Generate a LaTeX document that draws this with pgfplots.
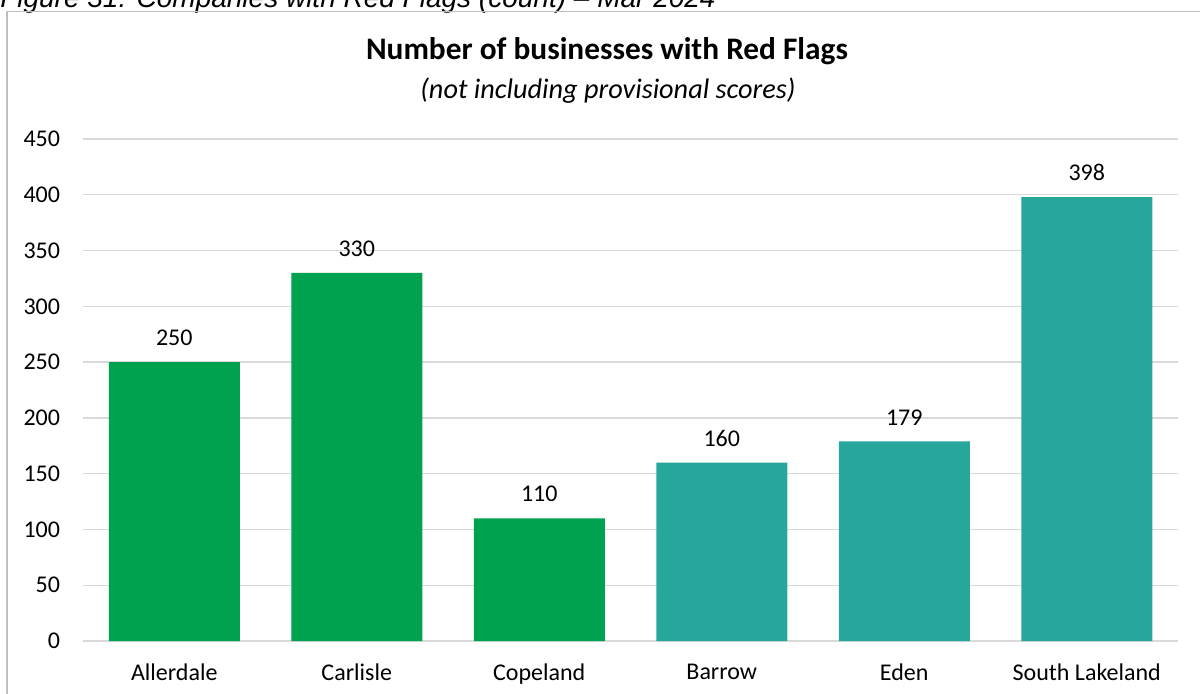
\documentclass[border=0pt]{standalone}
\usepackage{pgfplots}
\pgfplotsset{compat=1.18}
\usepackage{fontspec}
\setmainfont{Carlito}
\newfontfamily\arialfont{Liberation Sans}
\definecolor{bargreen}{HTML}{00A14F}
\definecolor{barteal}{HTML}{27A79B}
\definecolor{gridgrey}{HTML}{D9D9D9}
\definecolor{framegrey}{HTML}{BFBFBF}
\begin{document}
\begin{tikzpicture}
\useasboundingbox (0,0) rectangle (900pt,519.75pt);
\clip (0,0) rectangle (900pt,519.75pt);
\node[anchor=base west, inner sep=0pt, font=\arialfont\itshape\fontsize{21}{25}\selectfont] at (0pt,513.75pt) {Figure 31: Companies with Red Flags (count) – Mar 2024};
\draw[framegrey, line width=1.2pt] (5.25pt,-10pt) -- (5.25pt,511.125pt) -- (910pt,511.125pt);
\node[anchor=base, inner sep=0pt, font=\bfseries\fontsize{23.5}{28}\selectfont] at (455.25pt,475pt) {Number of businesses with Red Flags};
\node[anchor=base, inner sep=0pt, font=\itshape\fontsize{21.2}{25}\selectfont] at (456pt,446pt) {(not including provisional scores)};
\begin{axis}[
  at={(62.25pt,39pt)}, anchor=south west, scale only axis,
  width=821.25pt, height=376.5pt,
  xmin=-0.5, xmax=5.5, ymin=0, ymax=450,
  ytick={0,50,...,450}, xtick={0,...,5},
  xticklabels={Allerdale,Carlisle,Copeland,Barrow,Eden,South Lakeland},
  ymajorgrids, grid style={gridgrey, line width=1pt},
  axis line style={draw=none}, major tick length=0pt,
  tick label style={font=\fontsize{18}{22}\selectfont},
  yticklabel style={anchor=east, inner sep=0pt, xshift=-17pt},
  xticklabel style={anchor=north, inner sep=0pt, yshift=-17pt},
  /pgf/number format/assume math mode=true,
  ybar, bar width=98.25pt,
  nodes near coords,
  nodes near coords style={font=\fontsize{18}{22}\selectfont, anchor=south, inner sep=0pt, yshift=12pt, text=black},
  clip=false,
]
\addplot[fill=bargreen, draw=none, bar shift=0pt] coordinates {(0,250) (1,330) (2,110)};
\addplot[fill=barteal, draw=none, bar shift=0pt] coordinates {(3,160) (4,179) (5,398)};
\end{axis}
\end{tikzpicture}
\end{document}
